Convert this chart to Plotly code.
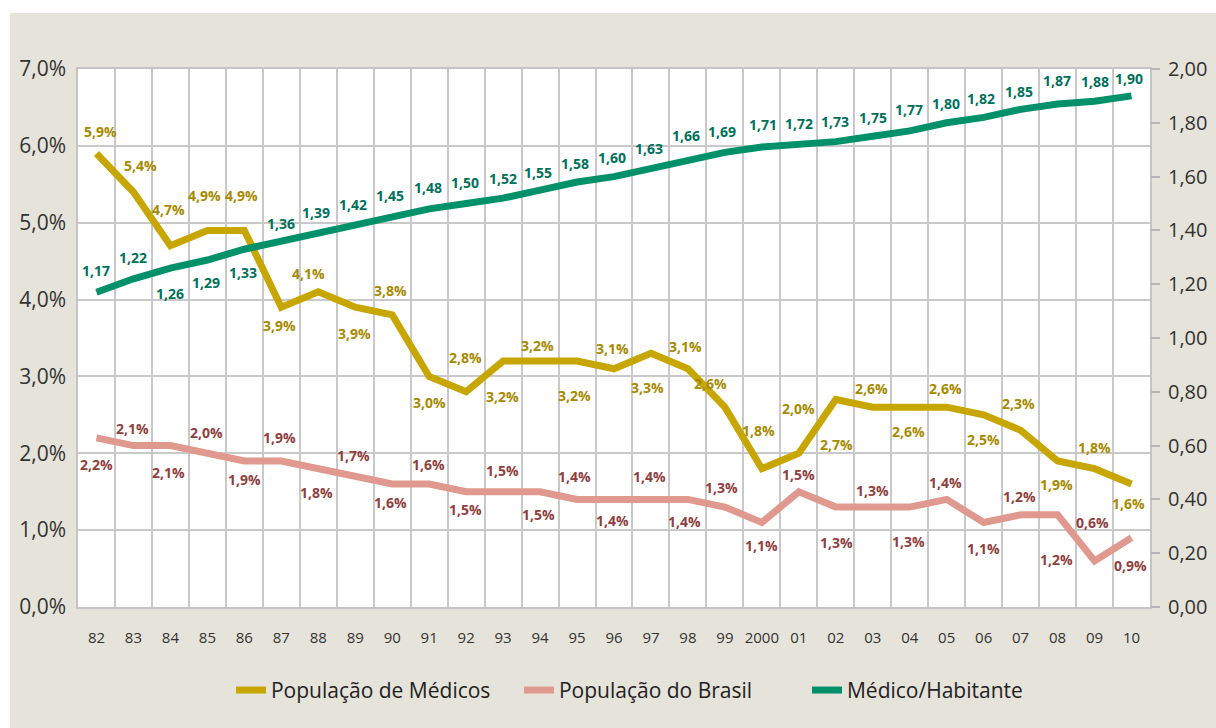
import plotly.graph_objects as go

# ---- data ----
years = ["82", "83", "84", "85", "86", "87", "88", "89", "90", "91", "92", "93", "94", "95",
         "96", "97", "98", "99", "2000", "01", "02", "03", "04", "05", "06", "07", "08", "09", "10"]
pop_medicos = [5.9, 5.4, 4.7, 4.9, 4.9, 3.9, 4.1, 3.9, 3.8, 3.0, 2.8, 3.2, 3.2, 3.2,
               3.1, 3.3, 3.1, 2.6, 1.8, 2.0, 2.7, 2.6, 2.6, 2.6, 2.5, 2.3, 1.9, 1.8, 1.6]
pop_brasil = [2.2, 2.1, 2.1, 2.0, 1.9, 1.9, 1.8, 1.7, 1.6, 1.6, 1.5, 1.5, 1.5, 1.4,
              1.4, 1.4, 1.4, 1.3, 1.1, 1.5, 1.3, 1.3, 1.3, 1.4, 1.1, 1.2, 1.2, 0.6, 0.9]
medico_hab = [1.17, 1.22, 1.26, 1.29, 1.33, 1.36, 1.39, 1.42, 1.45, 1.48, 1.50, 1.52, 1.55, 1.58,
              1.60, 1.63, 1.66, 1.69, 1.71, 1.72, 1.73, 1.75, 1.77, 1.80, 1.82, 1.85, 1.87, 1.88, 1.90]
left_ticks = [0, 1, 2, 3, 4, 5, 6, 7]
right_ticks = [0.0, 0.2, 0.4, 0.6, 0.8, 1.0, 1.2, 1.4, 1.6, 1.8, 2.0]
names = ["População de Médicos", "População do Brasil", "Médico/Habitante"]

# ---- label placement (styling, pixels) ----
med_dy = [22, 26, 36, 35, 35, -18, 18, -26, 24, -26, 34, -35, 16, -34,
          20, -34, 22, 24, 38, 45, -45, 19, -24, 19, -25, 27, -24, 21, -19]
med_dx = [4, 7, -2, -3, -3, -2, -10, -1, -2, 0, -1, -1, -3, -3,
          -2, -3, -2, -14, -3, 0, 1, -1, -1, -1, 0, -2, -1, 0, -3]
bra_dy = [-27, 17, -27, 21, -19, 23, -24, 21, -18, 20, -18, 21, -23, 23,
          -21, 23, -22, 20, -23, 17, -35, 17, -34, 17, -26, 18, -45, 38, -28]
bra_dx = [0, -1, -2, -1, 0, -2, -2, -2, -2, -1, -1, -1, -2, -3,
          -2, -1, -3, -3, 0, 0, 1, 0, -1, -1, 0, -1, -1, -2, -1]
hab_dy = [22, 21, -25, -23, -23, 18, 21, 21, 21, 21, 21, 20, 18, 18,
          19, 20, 25, 21, 23, 21, 20, 19, 21, 19, 19, 18, 23, 20, 17]
hab_dx = [0, 0, 0, -1, -1, 0, -2, -2, -2, -1, -1, 0, -2, -2,
          -2, -2, -2, -3, 1, 0, -1, 0, -1, -1, -3, -2, -1, 0, -3]

GOLD = "#c7a600"
GOLD_TXT = "#a68a00"
SALMON = "#e0998e"
SALMON_TXT = "#8e3f3f"
GREEN = "#00916b"
GREEN_TXT = "#00705c"
BEIGE = "#e6e3da"
FONT = "Open Sans"


def pct(v):
    return f"{v:.1f}".replace(".", ",") + "%"


def dec(v):
    return f"{v:.2f}".replace(".", ",")


fig = go.Figure()
fig.add_trace(go.Scatter(x=years, y=pop_medicos, mode="lines", name=names[0],
                         line=dict(color=GOLD, width=7), yaxis="y"))
fig.add_trace(go.Scatter(x=years, y=pop_brasil, mode="lines", name=names[1],
                         line=dict(color=SALMON, width=7), yaxis="y"))
fig.add_trace(go.Scatter(x=years, y=medico_hab, mode="lines", name=names[2],
                         line=dict(color=GREEN, width=7), yaxis="y2"))

annotations = []
for i, yr in enumerate(years):
    # category axis: annotation x given as the category index
    annotations.append(dict(x=i, y=pop_medicos[i], xref="x", yref="y", text=pct(pop_medicos[i]),
                            showarrow=False, yshift=med_dy[i], xshift=med_dx[i],
                            font=dict(family=FONT, size=14, color=GOLD_TXT, weight="bold")))
    annotations.append(dict(x=i, y=pop_brasil[i], xref="x", yref="y", text=pct(pop_brasil[i]),
                            showarrow=False, yshift=bra_dy[i], xshift=bra_dx[i],
                            font=dict(family=FONT, size=14, color=SALMON_TXT, weight="bold")))
    annotations.append(dict(x=i, y=medico_hab[i], xref="x", yref="y2", text=dec(medico_hab[i]),
                            showarrow=False, yshift=hab_dy[i], xshift=hab_dx[i],
                            font=dict(family=FONT, size=14, color=GREEN_TXT, weight="bold")))

fig.update_layout(
    width=1216, height=728,
    margin=dict(l=78, r=66, t=69, b=121, autoexpand=False),
    paper_bgcolor="white",
    plot_bgcolor="white",
    separators=",.",
    font=dict(family=FONT, color="#333333"),
    showlegend=True,
    legend=dict(orientation="h", x=0.1427, xanchor="left", y=-0.155, yanchor="middle",
                font=dict(family=FONT, size=21, color="#222222"), bgcolor="rgba(0,0,0,0)",
                entrywidth=243, tracegroupgap=0),
    xaxis=dict(type="category", categoryorder="array", categoryarray=years,
               range=[-0.5, len(years) - 0.5], tickson="boundaries",
               showgrid=True, gridcolor="#c9c9c9", gridwidth=1.5,
               showline=True, linecolor="#c4c4c4", linewidth=1.5, mirror=True,
               ticks="", ticklabelstandoff=16, tickangle=0, automargin=False,
               tickfont=dict(family=FONT, size=15, color="#333333"), zeroline=False),
    yaxis=dict(range=[0, 7], tickvals=left_ticks, ticktext=[pct(v) for v in left_ticks],
               showgrid=True, gridcolor="#c9c9c9", gridwidth=1.5,
               showline=True, linecolor="#c4c4c4", linewidth=1.5, mirror=True,
               ticks="", ticklabelstandoff=6, zeroline=False, automargin=False,
               tickfont=dict(family=FONT, size=21, color="#333333")),
    yaxis2=dict(range=[0, 2], tickvals=right_ticks, ticktext=[dec(v) for v in right_ticks],
                overlaying="y", side="right", showgrid=False, zeroline=False,
                ticks="outside", ticklen=9, tickcolor="#b5b5b5", tickwidth=1.5,
                showline=False, ticklabelstandoff=4, automargin=False,
                tickfont=dict(family=FONT, size=20, color="#333333")),
    annotations=annotations,
    shapes=[
        dict(type="rect", xref="paper", yref="paper", x0=-0.0634, x1=1.2,
             y0=-0.4, y1=1.104, fillcolor=BEIGE, line=dict(width=0), layer="below"),
        dict(type="rect", xref="paper", yref="paper", x0=0, x1=1,
             y0=0, y1=1, fillcolor="white", line=dict(width=0), layer="below"),
    ],
)

fig.write_html("out.html", config={"displayModeBar": False},
               post_script="document.body.style.margin='0';")
